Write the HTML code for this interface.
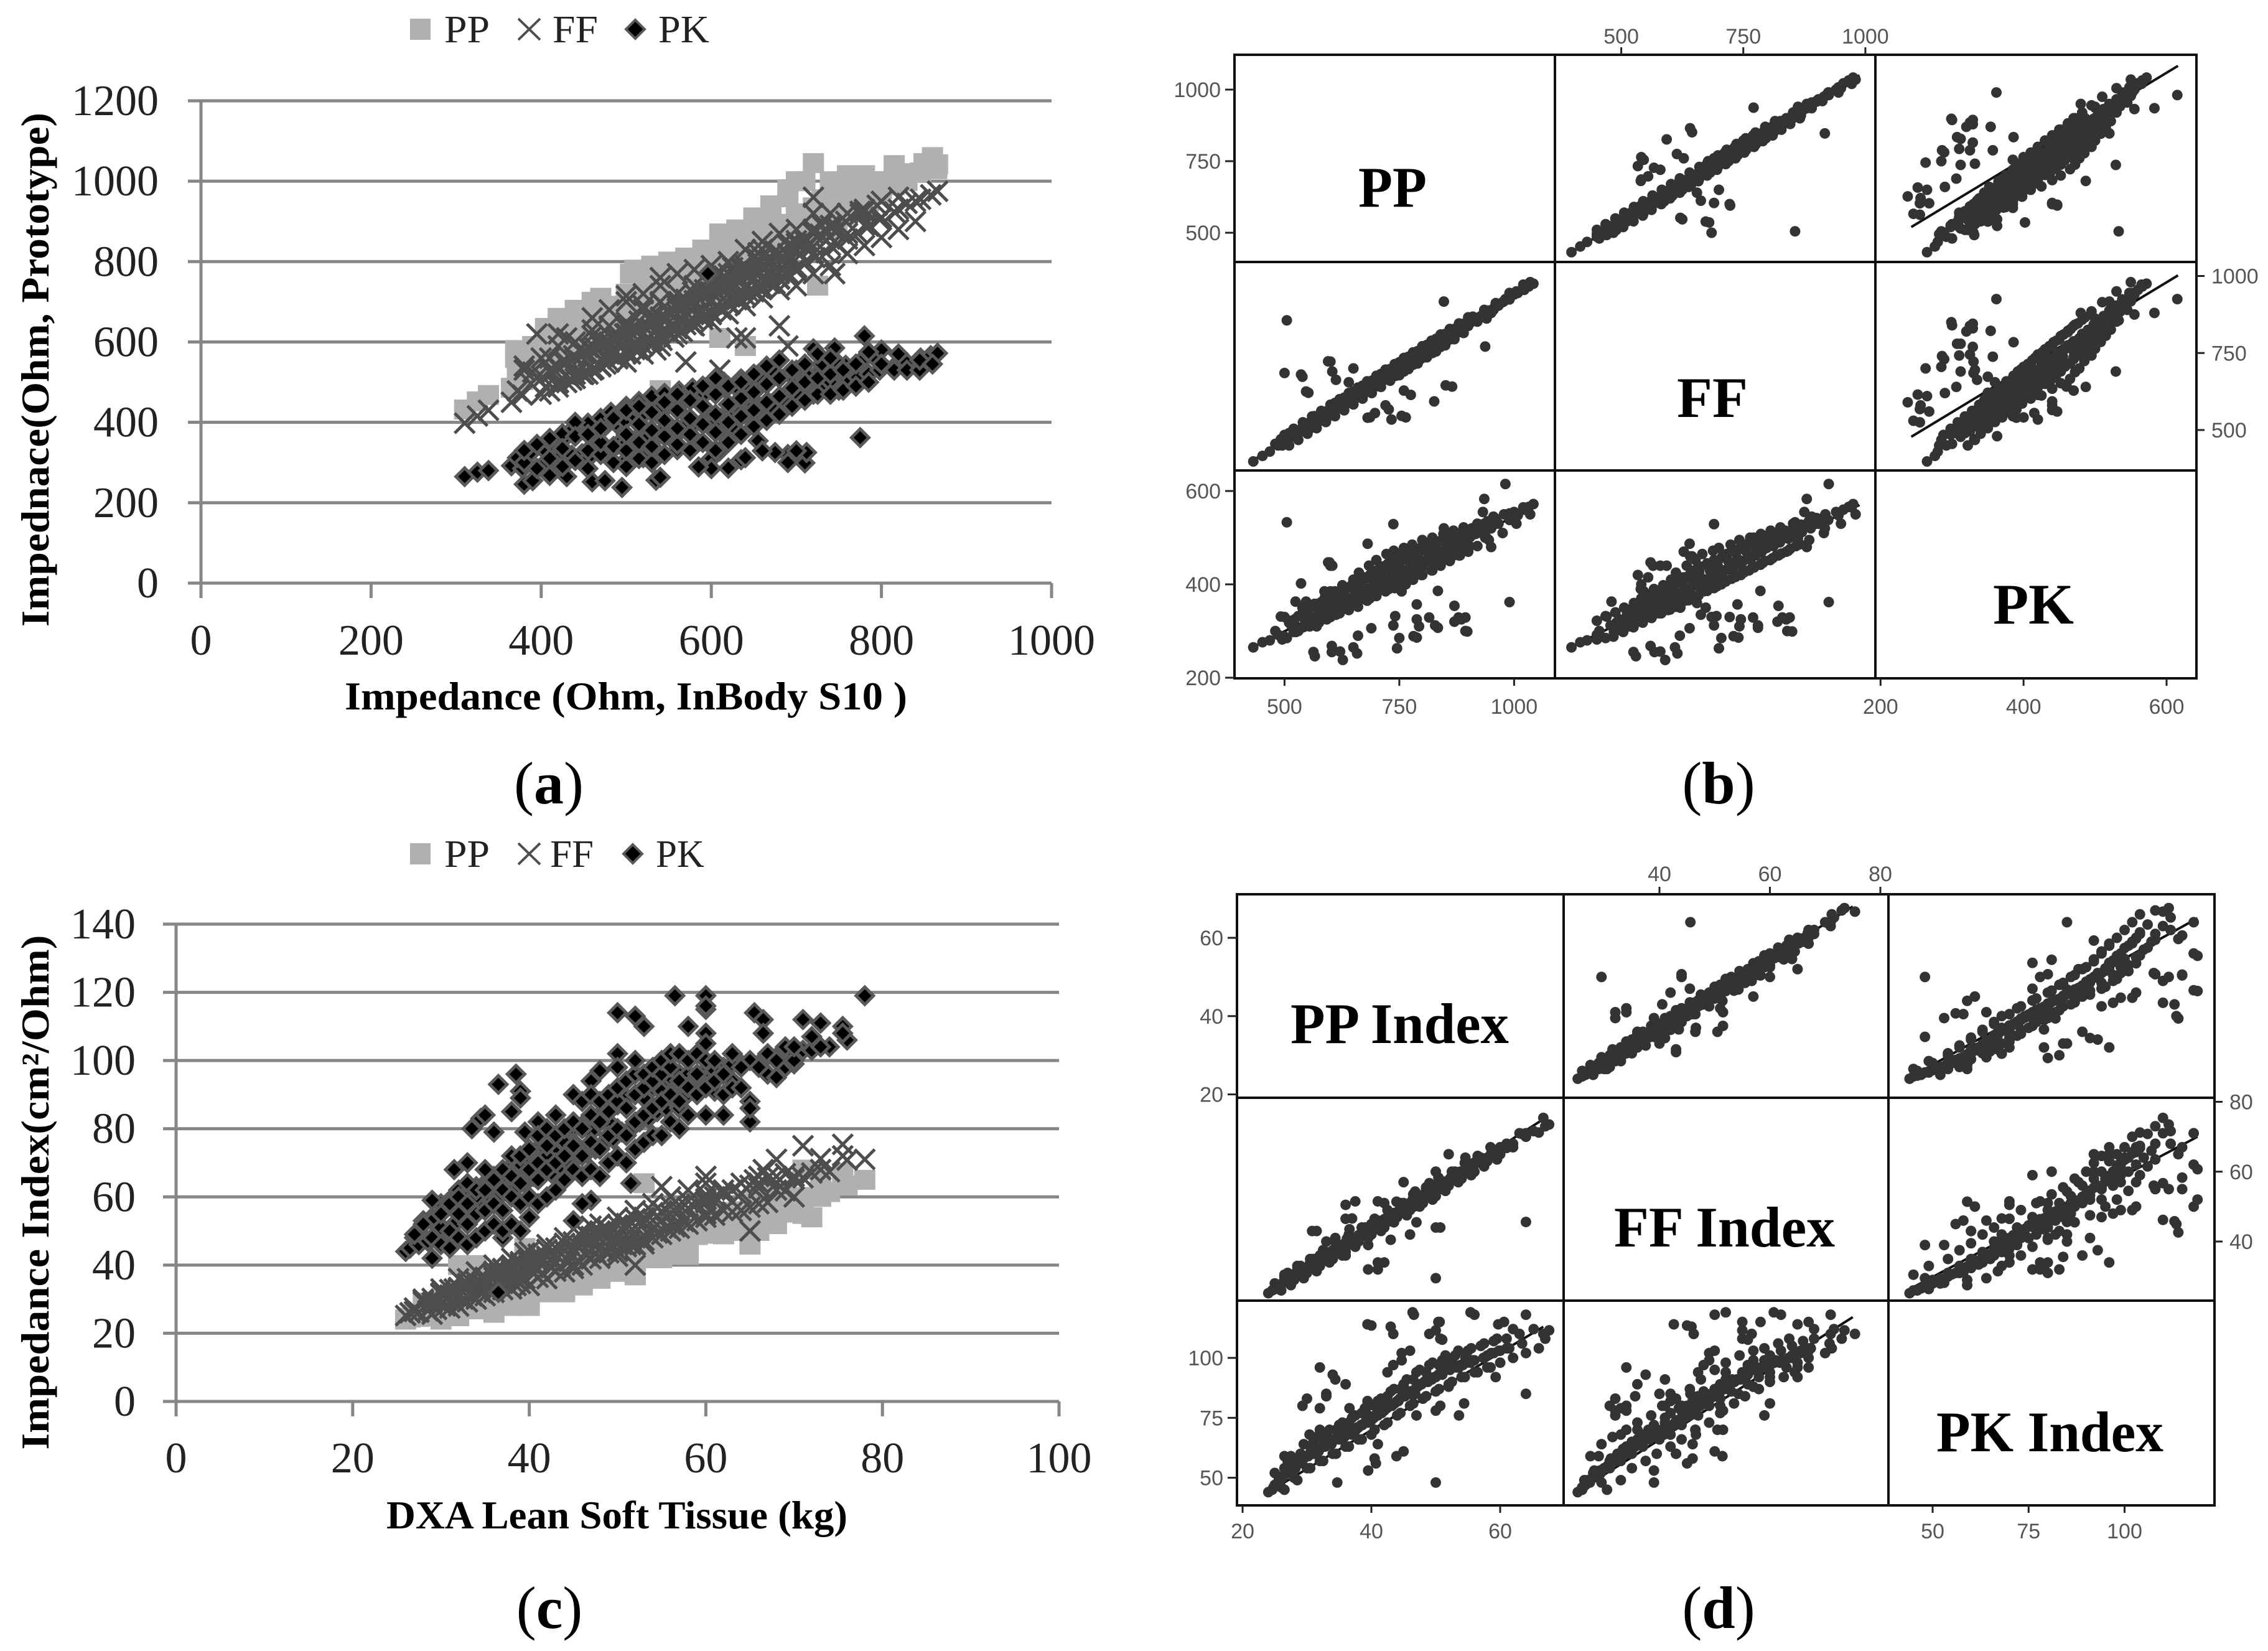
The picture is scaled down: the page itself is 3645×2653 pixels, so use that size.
<!DOCTYPE html>
<html lang="en">
<head>
<meta charset="utf-8">
<title>Impedance comparison charts</title>
<style>
html,body{margin:0;padding:0;background:#fff;}
svg{display:block;}
.title{font-family:"Liberation Serif",serif;font-weight:bold;font-size:64px;fill:#000;}
.legend-text{font-family:"Liberation Serif",serif;font-size:62px;fill:#222;}
.caption{font-family:"Liberation Serif",serif;font-size:96px;fill:#000;}
.diag{font-family:"Liberation Serif",serif;font-weight:bold;font-size:92px;fill:#000;}
</style>
</head>
<body>
<svg id="figure" xmlns="http://www.w3.org/2000/svg" width="3645" height="2653" viewBox="0 0 3645 2653">
  <rect x="0" y="0" width="3645" height="2653" fill="#fff"/>

  <g id="panel-a"></g>
  <g id="panel-b"></g>
  <g id="panel-c"></g>
  <g id="panel-d"></g>

  <!-- panel a text -->
  <g>
    <rect x="659" y="30" width="33" height="34" fill="#b0b0b0"/>
    <text class="legend-text" x="714" y="68" textLength="73" lengthAdjust="spacingAndGlyphs">PP</text>
    <path d="M833 30L868 64M868 30L833 64" stroke="#4d4d4d" stroke-width="4" fill="none"/>
    <text class="legend-text" x="888" y="68" textLength="73" lengthAdjust="spacingAndGlyphs">FF</text>
    <polygon points="1021,32 1036,47 1021,62 1006,47" fill="#000" stroke="#595959" stroke-width="4"/>
    <text class="legend-text" x="1058" y="68" textLength="82" lengthAdjust="spacingAndGlyphs">PK</text>
  </g>
  <text class="title" x="554" y="1140" textLength="904" lengthAdjust="spacingAndGlyphs">Impedance (Ohm, InBody S10 )</text>
  <text class="title" text-anchor="middle" transform="translate(78,594) rotate(-90)" textLength="826" lengthAdjust="spacingAndGlyphs">Impednace(Ohm, Prototype)</text>
  <text class="caption" x="882" y="1291" text-anchor="middle">(<tspan font-weight="bold">a</tspan>)</text>

  <!-- panel b text -->
  <text class="diag" x="2183" y="332" textLength="110" lengthAdjust="spacingAndGlyphs">PP</text>
  <text class="diag" x="2695" y="670" textLength="114" lengthAdjust="spacingAndGlyphs">FF</text>
  <text class="diag" x="3203" y="1002" textLength="130" lengthAdjust="spacingAndGlyphs">PK</text>
  <text class="caption" x="2762" y="1291" text-anchor="middle">(<tspan font-weight="bold">b</tspan>)</text>

  <!-- panel c text -->
  <g>
    <rect x="659" y="1355" width="33" height="34" fill="#b0b0b0"/>
    <text class="legend-text" x="714" y="1393" textLength="73" lengthAdjust="spacingAndGlyphs">PP</text>
    <path d="M833 1355L868 1389M868 1355L833 1389" stroke="#4d4d4d" stroke-width="4" fill="none"/>
    <text class="legend-text" x="884" y="1393" textLength="70" lengthAdjust="spacingAndGlyphs">FF</text>
    <polygon points="1017,1357 1032,1372 1017,1387 1002,1372" fill="#000" stroke="#595959" stroke-width="4"/>
    <text class="legend-text" x="1054" y="1393" textLength="78" lengthAdjust="spacingAndGlyphs">PK</text>
  </g>
  <text class="title" x="621" y="2456" textLength="741" lengthAdjust="spacingAndGlyphs">DXA Lean Soft Tissue (kg)</text>
  <text class="title" text-anchor="middle" transform="translate(78,1916) rotate(-90)" textLength="827" lengthAdjust="spacingAndGlyphs">Impedance Index(cm²/Ohm)</text>
  <text class="caption" x="883" y="2616" text-anchor="middle">(<tspan font-weight="bold">c</tspan>)</text>

  <!-- panel d text -->
  <text class="diag" x="2074" y="1676" textLength="351" lengthAdjust="spacingAndGlyphs">PP Index</text>
  <text class="diag" x="2594" y="2003" textLength="355" lengthAdjust="spacingAndGlyphs">FF Index</text>
  <text class="diag" x="3112" y="2332" textLength="365" lengthAdjust="spacingAndGlyphs">PK Index</text>
  <text class="caption" x="2762" y="2616" text-anchor="middle">(<tspan font-weight="bold">d</tspan>)</text>
</svg>

<script>
/* ---------- impedance data (panels a and b) ---------- */
const inbody = [310,325,338,365,378,372,405,388,420,402,
436,412,448,420,462,428,476,440,490,452,
505,462,516,476,530,488,542,498,556,510,
566,520,578,530,590,540,600,550,612,560,
622,570,634,582,645,592,656,604,668,616,
680,628,690,642,700,655,712,668,722,680,
735,695,748,712,760,728,772,742,785,758,
798,775,815,795,830,846,858,866,
395,455,410,470,425,484,438,498,455,510,470,525,482,540,500,555,515,570,530,590,545,606,562,622,578,640,598,655,615,670,635,688,655,705,675,720,740,700,750,730,
775,710,712,690,655,620,600,635,560,675,625,620,600,495,460,475,380,390,535,430,410,420,500,520,540,585,610,640,660,690,700,
null,null,null,null,null,null,null,null,null,null,null,null,null,null,null,null,null,null,null,null,null,null,null,null,null,null,null,null,null,780,745,720];
const ppImp = [432,452,468,486,505,515,530,522,545,542,
556,552,570,568,584,580,590,596,608,606,
620,622,632,630,645,646,656,658,668,672,
684,686,690,702,706,714,722,726,736,738,
750,754,762,770,774,784,788,796,802,808,
816,820,828,836,842,848,856,862,868,874,
882,890,898,908,916,926,932,942,950,958,
966,978,990,1000,1008,1022,1032,1042,
548,570,566,592,588,612,600,624,626,640,650,660,662,676,684,700,700,716,722,742,738,760,760,780,778,798,800,822,822,840,846,860,868,882,890,900,940,920,950,955,
990,898,885,870,870,788,793,834,741,788,834,788,750,627,658,603,566,563,621,650,603,660,689,737,745,781,815,828,879,894,894,
505,552,539,600,612,826,851,937,847,500,536,547,595,604,650,733,755,681,697,720,760,640,598,600,681,737,587,492,524,981,932,935,
865,764,686,727,775,
480,495,510,525,540,555,565,575,590,600,610,620,630,640,650,660,670,680,690,700,710,720,730,740,750,760,770,780,790,800,810,820,830,840,850,860,870,880,890,900,910,920,935,945,960,975,990,1005,1020,1035,
520,560,600,640,680,720,760,800,840,880,920,960,545,585,625,665,705,745,785,825,865,905,945,
500,510,520,530,540,550,560,570,580,590,600,610,620,630,640,650,660,670,680,690,700,710,720,730,740,750,760,770,780,790,800,810,820,830,840,850,860,870,880,890,900,
555,575,595,615,635,655,675,695,715,735,755,775,795,815,835];
const ffImp = [398,416,430,450,468,478,488,496,498,512,
505,522,520,534,532,548,545,562,558,575,
570,588,582,598,592,608,604,620,612,628,
626,640,642,650,656,662,668,676,680,690,
694,706,708,716,722,730,734,744,746,756,
758,770,772,784,786,794,798,806,810,820,
822,836,842,852,856,868,870,884,888,900,
904,918,924,940,945,955,966,975,
512,520,530,538,552,566,566,575,586,588,602,610,612,622,634,642,652,662,666,676,688,690,700,712,724,732,742,750,764,770,786,794,806,818,826,838,862,852,880,890,
925,850,838,820,822,740,742,780,695,745,785,738,705,590,615,568,530,525,580,610,560,620,640,690,700,730,770,780,830,840,845,
856,621,673,722,663,593,645,771,917,685,680,625,723,690,700,534,546,540,555,580,628,655,560,565,640,690,545,470,480,925,875,880,
641,541,541,567,614,
455,450,490,485,512,515,545,530,560,555,588,578,605,596,625,612,644,630,660,650,682,668,698,690,720,705,738,726,756,745,776,762,796,785,812,805,828,822,845,842,868,858,890,885,912,915,945,950,972,980,
485,520,560,598,635,672,710,750,788,825,862,900,508,548,585,622,660,698,735,775,812,850,888,
484,450,504,468,525,488,544,506,562,526,582,545,600,564,620,583,638,602,658,620,676,640,696,660,714,678,734,698,752,716,772,736,790,755,810,775,828,795,846,815,866,
515,534,553,572,592,611,630,649,668,687,706,725,744,763,782];
const pkImp = [265,276,280,292,285,312,300,325,310,335,
318,348,322,358,330,362,338,370,345,378,
350,385,358,392,365,398,372,405,380,415,
385,420,392,430,400,438,405,445,410,452,
418,458,425,465,432,470,440,478,448,485,
455,490,462,492,470,498,478,505,485,510,
492,515,498,520,508,528,512,535,520,542,
530,550,538,555,548,560,566,572,
345,310,358,325,372,335,385,345,398,355,410,362,425,372,440,380,452,392,465,398,472,402,478,410,485,420,495,430,500,440,508,450,515,462,522,470,500,530,480,545,
362,299,325,320,354,286,310,307,332,325,386,357,285,238,252,255,246,255,256,265,268,290,306,312,263,289,329,312,329,300,329,
533,350,350,330,335,440,460,500,520,330,402,363,447,440,400,420,385,390,415,440,470,360,447,440,487,529,385,331,363,615,555,583,
460,400,370,390,420,
300,282,318,298,340,310,358,318,375,330,385,338,392,345,402,352,410,365,420,375,428,385,438,392,448,400,455,412,470,420,478,430,485,442,498,452,505,462,512,472,520,482,530,495,540,510,552,530,565,550,
310,330,350,370,390,410,430,450,470,490,510,530,322,342,362,382,402,422,442,462,482,502,522,
288,322,298,332,308,340,318,350,328,360,338,370,346,380,356,390,366,400,376,410,386,420,396,430,406,440,416,450,426,460,436,470,446,480,456,490,466,500,476,510,486,
328,338,348,358,368,378,388,398,408,418,428,438,448,458,468];

/* points that only appear in panel a */
const aPpExtraX = [510,505,530,540,610,640,725,720,440,470,405,860,815,850,760,780,700,865,820,
370,370,390,420,420,440,460,460,480,500,500,520,550,550,570,570,590,590,610,610,630,630,650,650,670,670,690,690,710,740,740,760,760,780,800,800,830,830];
const aPpExtraY = [780,770,790,480,610,590,740,1045,680,710,635,1060,1040,1045,1015,1015,1000,1030,1010,
560,580,590,630,650,660,680,700,690,700,720,760,790,800,800,810,820,830,850,870,870,880,900,910,920,940,960,980,1000,980,1000,960,1000,990,980,1000,1000,1020];
const aFfExtraX = [395,680,570,610,630,720,690,500,540,745,640,
380,400,400,420,420,440,440,460,460,460,480,480,480,500,500,500,500,520,520,520,520,540,540,540,540,560,560,560,560,580,580,580,580,600,600,600,600,620,620,620,620,640,640,640,640,660,660,660,660,680,680,680,680,700,700,700,700,720,720,720,720,740,740,740,740,760,760,760,780,780,780,800,800,800,820,820,820,840,840,
410,420,430,440,450,460,470,480,490,500,510,520,530,540,550,560,570,580,590,600,610,620,630,640,650,660,670,680,690,700,
410,420,430,440,450,460,470,480,490,500,510,520,530,540,550,560,570,580,590,600,610,620,630,640,650,660,670,680,690,700];
const aFfExtraY = [620,640,550,530,610,960,590,715,760,770,610,
540,470,560,500,590,520,600,530,630,660,570,640,680,550,600,650,700,570,620,680,720,590,640,700,740,620,670,720,770,640,690,740,780,650,700,750,790,670,720,770,800,690,740,790,830,710,760,810,850,730,770,820,870,740,780,830,880,770,820,870,920,790,840,890,920,820,870,920,840,890,930,860,910,950,880,930,960,900,950,
478,538,499,559,519,580,540,600,560,621,581,641,602,662,622,683,643,703,663,724,684,744,705,765,725,785,746,806,766,827,
528,488,549,509,569,530,590,550,610,571,631,591,652,612,672,633,693,653,713,674,734,694,755,715,775,735,796,756,816,777];
const aPkExtraX = [596,800,820,440,745,
380,380,395,395,410,410,425,425,440,440,455,455,455,470,470,470,485,485,485,500,500,500,500,515,515,515,515,530,530,530,530,545,545,545,545,560,560,560,560,575,575,575,575,590,590,590,590,605,605,605,605,605,620,620,620,620,635,635,635,635,650,650,650,650,665,665,665,665,680,680,680,680,695,695,695,710,710,710,725,725,725,740,740,740,755,755,770,770,785,785,800,815,830,845,845,860];
const aPkExtraY = [770,580,570,400,585,
300,330,285,345,310,360,290,335,305,365,285,330,370,320,350,385,300,340,410,290,330,370,430,310,350,395,440,300,340,380,425,320,365,405,450,345,385,430,470,330,370,410,455,350,395,440,490,330,375,420,470,510,350,400,445,490,370,415,460,500,390,430,475,520,405,450,495,540,420,465,510,555,440,485,530,455,500,545,470,510,570,470,520,560,480,530,490,545,500,575,545,530,530,530,555,545];

/* ---------- index data (panels c and d) ---------- */
const dxaLean = [26,26.5,27,27.5,28,28.5,29,29.5,30,30.5,
31,31.5,32,32.5,33,33.5,34,34.5,35,35.5,
36,36.5,37,37.5,38,38.5,39,39.5,40,40.5,
41,41.5,42,42.5,43,43.5,44,44.5,45,45.5,
46,46.5,47,47.5,48,48.5,49,49.5,50,50.5,
51,51.5,52,52.5,53,53.5,54,54.5,55,55.5,
56,56.5,57,57.5,58,59,60,61,62,63,
64,65,66,67,68,69,70,71,72,74,76,null,
27,29,31,33,35,37,39,41,43,45,47,49,51,53,55,57,59,61,63,65,67,69,30,32,34,36,38,40,42,44,
38.5,36.5,39,39,33.5,34.5,36,35,38,39.5,41,31.5,33,29,50,52,53,56.5,50,48,47,60,58,60,60,65.5,null,75.5,73,66.5,
51.5,45,47,46,37];
const ppIdx = [24.0,24.6,25.6,24.8,27.2,25.0,28.0,25.8,29.5,26.2,
30.2,27.0,31.2,28.2,31.8,28.8,32.8,29.2,33.6,30.4,
35.0,31.0,35.8,32.0,36.4,32.4,37.6,33.8,38.0,34.2,
40.0,35.2,40.4,35.6,41.6,36.8,42.0,37.2,43.2,38.4,
43.6,39.0,44.8,39.6,45.2,40.6,46.2,41.2,46.8,42.2,
47.8,42.8,48.2,44.0,49.4,44.4,49.8,45.6,51.0,46.0,
51.6,47.2,52.6,47.6,53.2,48.8,54.2,49.2,54.8,51.0,
55.8,52.0,56.0,53.6,58.0,55.4,58.6,59.8,60.0,61.4,63.4,65.2,
25.6,27.2,29.4,30.6,32.4,34.4,36.4,37.8,39.4,40.8,42.4,44.2,45.8,47.4,48.6,50.4,52.2,53.8,55.6,57.4,59.0,61.0,26.4,28.0,30.8,33.0,35.4,36.2,38.6,41.0,
32,34,34.4,36,29.3,30,32,33,33,36.6,39.4,30.4,32,26.5,39.4,43,43.4,46.4,44.7,43.4,42.5,50.4,49,50.7,55.4,59.7,64,66.7,66,62,
41,39.5,43.9,40.5,34.7,
64,50.7,47,41,42,37,42,37.5,31.5,46.8,46,52,36,36,30.8,41,45,50,54.6,39.5,
41,50,43,67,67.6,40,46.6,56,60.6,51,50,50.6,44.7,46,53.6,54.4,59.3,40.7,45,50,
25,26,27,28,29,30,31,32,33,34,35,36,37,38,39,40,41,42,43,44,45,46,47,48,49,50,51,52,53,54,55,56,57,58,59,60,61,62,63,64,
26.5,28.5,30.5,32.5,34.5,36.5,38.5,40.5,42.5,44.5,46.5,48.5,50.5,52.5,
26.5,27.5,28.5,29.5,30.5,31.5,32.5,33.5,34.5,35.5,36.5,37.5,38.5,39.5,40.5,41.5,42.5,43.5,44.5,45.5,46.5,47.5,48.5,49.5,50.5,51.5,52.5,53.5,54.5,55.5,56.5,57.5,58.5,59.5];
const ffIdx = [25.2,26.0,27.4,26.2,29.2,26.6,30.2,27.0,31.8,28.0,
32.8,29.4,33.4,30.0,34.6,31.0,35.0,32.2,36.4,32.4,
38.2,34.0,38.8,34.2,40.0,35.6,40.4,36.0,41.8,37.4,
43.2,37.6,44.6,39.2,45.0,39.6,46.4,41.0,46.8,41.4,
48.2,42.8,48.4,43.6,50.0,44.2,50.2,45.6,51.8,46.0,
52.2,47.4,53.6,47.6,54.0,49.2,55.4,49.4,55.8,51.0,
57.2,51.2,57.6,52.8,58.8,53.0,59.4,54.6,60.8,55.6,
61.0,57.0,62.6,58.4,64.0,61.8,65.2,65.6,67.0,67.4,70.8,71.6,
26.4,28.2,31.2,33.8,35.2,36.8,39.0,41.0,43.0,44.6,46.6,48.6,50.6,52.2,53.2,56.0,58.0,60.0,62.0,63.4,65.6,66.8,28.6,30.6,34.0,36.4,38.4,40.8,42.6,44.2,
34,37.5,41,36,31,32,33,35.6,40,43.5,42,33,36,29,42.6,45.8,46.2,52,49,48,47,58.3,56.7,55,60.7,65,71,75.4,71.2,68,
46,39,51.4,46,39,
45.6,44,45.5,32,34,46.6,51,51.5,43,54.3,42,65,50.5,46.5,43,51.5,57,60,64,32,
34,44,40.5,73,73.5,45,50,62,67,56,55,55,49,50,59,60,65,45,50,29.5,
28,26,31,29,33,31,35,33,37,35,39,37,41,40,44,42,46,44,48,47,51,49,52,51,56,53,57,56,60,58,62,60,64,63,66,65,68,67,71,70,
30,32,34,36,38,41,42,45,47,50,52,55,57,59,
30.5,27.5,33,29.5,35,31.5,37.5,34,39.5,36,42,38.5,44,41,46.5,43,49,45.5,51,47.5,53.5,50,55.5,52,58,54.5,60,57,62.5,59,64.5,61.5,67,63.5];
const pkIdx = [44,45,48,46,53,47,54,49,58,50,
59,52,62,54,61,56,63,57,64,60,
66,60,67,62,69,63,70,64,71,66,
74,67,75,67,77,69,78,70,80,72,
81,73,84,74,84,76,86,77,87,79,
89,80,90,82,91,83,92,85,93,86,
95,88,96,89,96,90,97,91,98,94,
99,88,99,96,101,98,102,103,103,104,106,112,
49,53,58,60,63,66,69,71,73,76,79,82,86,89,91,93,95,97,99,100,102,104,51,55,60,64,67,68,72,76,
96,93,91,89,80,83,79,84,85,79,82,68,70,59,114,113,110,119,102,97,94,115,110,108,119,114,118,110,104,112,
64,53,59,58,48,
85,80,76,78,80,68,80,70,60,85,85,96,70,70,60,78,88,92,100,76,
78,78,80,108,111.5,113.5,118,118,115,107.6,111.5,115,99,103,76,81,92,56,61,48,
52,46,57,50,60,54,65,57,68,60,72,63,75,66,79,68,82,72,86,76,89,80,94,83,97,86,99,89,101,92,103,94,105,96,107,98,108,100,110,102,
54,58,63,66,70,73,77,80,84,87,91,94,97,99,
45,59,49,64,54,67,57,70,60,73,63,76,66,80,70,83,73,87,77,91,81,95,84,98,87,101,90,103,92,104,94,106,96,108];

/* points that only appear in panel c */
const cPpExtraX = [53,71,75.5,78,71,72,65,58,52,39.5,32,28,68,62,44,48,55,34,
30,30,32,34,36,36,38,40,40,42,44,44,46,46,48,50,52,52,54,56,56,58,58,60,62,62,64,66,66,68,68,70,70,73,73];
const cPpExtraY = [64,68,67,65,55,54,46,43,37,45,40,29,56,50,33,36,42,40,
24,26,25,27,26,30,28,28,30,32,32,34,34,35,36,38,40,37,42,43,45,46,48,50,49,52,50,50,54,52,55,56,60,60,62];
const cFfExtraX = [71,75.5,78,65,55,60,66,68,73,52,63,
28,30,32,32,34,34,36,36,38,38,40,40,42,42,44,44,46,46,48,48,50,50,52,52,54,54,56,56,58,58,60,60,62,62,64,64,66,66,68,68,70,70,
28,29,30,31,32,33,34,35,36,37,38,39,40,41,42,43,44,45,46,47,48,49,50,51,52,53,54,55,56,57,58];
const cFfExtraY = [75,72,71,50,63,66,66,71,68,40,62,
30,33,28,36,30,38,32,40,33,42,34,44,36,46,38,48,40,50,42,52,44,54,46,56,48,58,50,60,52,62,54,64,56,62,56,64,58,64,62,66,60,66,
29.7,25.6,31.5,27.4,33.3,29.2,35.1,31,36.9,32.8,38.7,34.6,40.5,36.4,42.3,38.2,44.1,40,45.9,41.8,47.7,43.6,49.5,45.4,51.3,47.2,53.1,49,54.9,50.8,56.7];
const cPkExtraX = [36.5,57,62,65,65,68,70,72,78,71,60,66.5,73,75.5,
28,29,29,30,30,31,31,31,32,32,32,33,33,33,33,34,34,34,35,35,35,35,36,36,36,37,37,37,37,38,38,38,38,39,39,39,39,40,40,40,40,41,41,41,41,42,42,42,42,43,43,43,43,44,44,44,45,45,45,45,46,46,46,46,47,47,47,47,48,48,48,48,49,49,49,49,50,50,50,50,50,51,51,51,51,52,52,52,52,52,53,53,53,53,54,54,54,54,55,55,55,55,56,56,56,56,57,57,57,57,58,58,58,59,59,59,60,60,60,60,61,61,62,62,63,63,63,64,64,66,68,70,70];
const cPkExtraY = [32,86,84,82,86,95,99,107,119,112,116,108,111,108,
52,42,48,46,55,45,50,58,48,55,60,46,52,58,64,48,55,62,50,56,62,68,52,58,65,50,56,62,68,52,60,66,72,50,58,64,72,54,60,68,74,58,65,70,78,60,68,75,80,62,70,78,84,65,72,80,68,75,82,90,66,72,80,88,68,76,84,90,66,74,82,88,70,78,85,90,72,80,88,92,98,70,78,86,94,74,82,90,96,100,76,84,92,96,78,86,94,98,78,88,96,100,82,90,98,102,80,88,94,102,84,92,100,90,96,102,84,92,100,105,94,100,90,96,92,99,102,98,92,98,100,100,104];

/* ---------- tick labels ---------- */
const aXTicks = [0,200,400,600,800,1000];
const aYTicks = [0,200,400,600,800,1000,1200];
const cXTicks = [0,20,40,60,80,100];
const cYTicks = [0,20,40,60,80,100,120,140];
const bTicksPP = [500,750,1000];
const bTicksFF = [500,750,1000];
const bTicksPK = [200,400,600];
const dTicksPP = [20,40,60];
const dTicksFF = [40,60,80];
const dTicksPK = [50,75,100];

/* ---------- fit line end values: [x start, x end, y start, y end] ---------- */
const bFitFFvsPP = [396,988,430,1050];
const bFitPKvsPP = [243,616,520,1083];
const bFitPPvsFF = [430,1050,400,985];
const bFitPKvsFF = [243,616,478,1002];
const bFitPPvsPK = [430,1050,265,570];
const bFitFFvsPK = [396,988,265,570];
const dFitFFvsPP = [25,75,24,68];
const dFitPKvsPP = [43.4,119,24,65];
const dFitPPvsFF = [24,66.7,25,75];
const dFitPKvsFF = [43.4,119,26,70];
const dFitPPvsPK = [24,66.7,44,113];
const dFitFFvsPK = [25,75,44,117];

const NS = 'http://www.w3.org/2000/svg';
function mk(parent, tag, attrs) {
  const el = document.createElementNS(NS, tag);
  for (const k in attrs) el.setAttribute(k, attrs[k]);
  parent.appendChild(el);
  return el;
}
function linear(d0, d1, r0, r1) {
  return v => r0 + (v - d0) / (d1 - d0) * (r1 - r0);
}

function drawSquare(g, x, y) {
  const el = mk(g, 'rect', {x: x - 17, y: y - 16, width: 34, height: 32, fill: '#b0b0b0'});
  
  
}
function drawCross(g, x, y) {
  const el = mk(g, 'path', {d: 'M' + (x - 16) + ' ' + (y - 16) + 'L' + (x + 16) + ' ' + (y + 16) + 'M' + (x + 16) + ' ' + (y - 16) + 'L' + (x - 16) + ' ' + (y + 16), stroke: '#4d4d4d', 'stroke-width': 5, fill: 'none'});
  
  
}
function drawDiamond(g, x, y) {
  const el = mk(g, 'polygon', {points: x + ',' + (y - 14) + ' ' + (x + 14) + ',' + y + ' ' + x + ',' + (y + 14) + ' ' + (x - 14) + ',' + y, fill: '#000', stroke: '#595959', 'stroke-width': 5});
  
  
}

function drawScatter(cfg) {
  const g = document.getElementById(cfg.id);
  const sx = linear(cfg.xDomain[0], cfg.xDomain[1], cfg.x0, cfg.x1);
  const sy = linear(cfg.yDomain[0], cfg.yDomain[1], cfg.y0, cfg.y1);

  cfg.yTicks.forEach(t => {
    const y = sy(t);
    const line = mk(g, 'line', {x1: cfg.tickLeft, x2: cfg.x1, y1: y, y2: y, stroke: '#868686', 'stroke-width': 5});
    
    
    const label = mk(g, 'text', {x: cfg.yLabelRight, y: y + 23, 'text-anchor': 'end', 'font-family': '"Liberation Serif",serif', 'font-size': 70, fill: '#222'});
    label.textContent = t;
    
    
  });
  cfg.xTicks.forEach(t => {
    const x = sx(t);
    const tick = mk(g, 'line', {x1: x, x2: x, y1: cfg.y0, y2: cfg.y0 + 24, stroke: '#868686', 'stroke-width': 5});
    
    
    const label = mk(g, 'text', {x: x, y: cfg.xLabelY, 'text-anchor': 'middle', 'font-family': '"Liberation Serif",serif', 'font-size': 70, fill: '#222'});
    label.textContent = t;
    
    
  });
  const axis = mk(g, 'line', {x1: cfg.x0, x2: cfg.x0, y1: cfg.y1, y2: cfg.y0 + 24, stroke: '#868686', 'stroke-width': 5});
  
  

  const plot = (xs, ys, fn) => {
    for (let i = 0; i < Math.min(xs.length, ys.length); i++) {
      if (xs[i] === null || ys[i] === null) continue;
      fn(g, sx(xs[i]), sy(ys[i]));
    }
  };
  plot(cfg.x, cfg.pp, drawSquare);
  plot(cfg.ppExtraX, cfg.ppExtraY, drawSquare);
  plot(cfg.x, cfg.ff, drawCross);
  plot(cfg.ffExtraX, cfg.ffExtraY, drawCross);
  plot(cfg.x, cfg.pk, drawDiamond);
  plot(cfg.pkExtraX, cfg.pkExtraY, drawDiamond);
}

function drawMatrix(cfg) {
  const g = document.getElementById(cfg.id);
  const [L, V1, V2, R] = cfg.vLines;
  const [T, H1, H2, B] = cfg.hLines;

  const colScale = cfg.cols.map(c => linear(c[0], c[1], c[2], c[3]));
  const rowScale = cfg.rows.map(r => linear(r[0], r[1], r[2], r[3]));

  for (let r = 0; r < 3; r++) {
    for (let c = 0; c < 3; c++) {
      if (r === c) continue;
      const fit = cfg.fits[r + '-' + c];
      const ln = mk(g, 'line', {x1: colScale[c](fit[0]), x2: colScale[c](fit[1]), y1: rowScale[r](fit[2]), y2: rowScale[r](fit[3]), stroke: '#111', 'stroke-width': 4});
      
      
      const xs = cfg.vars[c];
      const ys = cfg.vars[r];
      for (let i = 0; i < Math.min(xs.length, ys.length); i++) {
        const dot = mk(g, 'circle', {cx: colScale[c](xs[i]), cy: rowScale[r](ys[i]), r: 8.5, fill: '#333'});
        
        
      }
    }
  }

  const frame = mk(g, 'rect', {x: L, y: T, width: R - L, height: B - T, fill: 'none', stroke: '#111', 'stroke-width': 4});
  
  
  [V1, V2].forEach(x => {
    const el = mk(g, 'line', {x1: x, x2: x, y1: T, y2: B, stroke: '#111', 'stroke-width': 4});
    
    
  });
  [H1, H2].forEach(y => {
    const el = mk(g, 'line', {x1: L, x2: R, y1: y, y2: y, stroke: '#111', 'stroke-width': 4});
    
    
  });

  const tickStyle = {'font-family': '"Liberation Sans",sans-serif', 'font-size': 34, fill: '#555'};
  const addTick = (x1, y1, x2, y2) => {
    const t = mk(g, 'line', {x1, y1, x2, y2, stroke: '#222', 'stroke-width': 3});
    
    
  };
  const addLabel = (x, y, anchor, s) => {
    const t = mk(g, 'text', Object.assign({x, y, 'text-anchor': anchor}, tickStyle));
    t.textContent = s;
    
    
  };
  /* left: rows 0 and 2 */
  [0, 2].forEach(r => cfg.ticks[r].forEach(v => {
    const y = rowScale[r](v);
    addTick(L, y, L - 15, y);
    addLabel(L - 22, y + 12, 'end', v);
  }));
  /* right: row 1 */
  cfg.ticks[1].forEach(v => {
    const y = rowScale[1](v);
    addTick(R, y, R + 13, y);
    addLabel(R + 24, y + 12, 'start', v);
  });
  /* top: column 1 */
  cfg.ticks[1].forEach(v => {
    const x = colScale[1](v);
    addTick(x, T, x, T - 12);
    addLabel(x, cfg.topLabelY, 'middle', v);
  });
  /* bottom: columns 0 and 2 */
  [0, 2].forEach(c => cfg.ticks[c].forEach(v => {
    const x = colScale[c](v);
    addTick(x, B, x, B + 12);
    addLabel(x, cfg.bottomLabelY, 'middle', v);
  }));
}

drawScatter({
  id: 'panel-a', x: inbody, pp: ppImp, ff: ffImp, pk: pkImp,
  ppExtraX: aPpExtraX, ppExtraY: aPpExtraY, ffExtraX: aFfExtraX, ffExtraY: aFfExtraY, pkExtraX: aPkExtraX, pkExtraY: aPkExtraY,
  xDomain: [0, 1000], yDomain: [0, 1200], x0: 323, x1: 1690, y0: 937, y1: 162,
  xTicks: aXTicks, yTicks: aYTicks, tickLeft: 302, yLabelRight: 255, xLabelY: 1052
});
drawScatter({
  id: 'panel-c', x: dxaLean, pp: ppIdx, ff: ffIdx, pk: pkIdx,
  ppExtraX: cPpExtraX, ppExtraY: cPpExtraY, ffExtraX: cFfExtraX, ffExtraY: cFfExtraY, pkExtraX: cPkExtraX, pkExtraY: cPkExtraY,
  xDomain: [0, 100], yDomain: [0, 140], x0: 283, x1: 1702, y0: 2252, y1: 1485,
  xTicks: cXTicks, yTicks: cYTicks, tickLeft: 262, yLabelRight: 218, xLabelY: 2366
});
drawMatrix({
  id: 'panel-b', vars: [ppImp, ffImp, pkImp],
  vLines: [1984, 2499, 3014, 3530], hLines: [88, 421, 756, 1090],
  cols: [[500, 1000, 2064.4, 2433.4], [500, 1000, 2605.6, 2997.9], [200, 600, 3022.3, 3482]],
  rows: [[500, 1000, 374, 144], [500, 1000, 691, 443.5], [200, 600, 1089, 789]],
  ticks: [bTicksPP, bTicksFF, bTicksPK],
  fits: {'0-1': bFitFFvsPP, '0-2': bFitPKvsPP, '1-0': bFitPPvsFF, '1-2': bFitPKvsFF, '2-0': bFitPPvsPK, '2-1': bFitFFvsPK},
  topLabelY: 70, bottomLabelY: 1147
});
drawMatrix({
  id: 'panel-d', vars: [ppIdx, ffIdx, pkIdx],
  vLines: [1988, 2513, 3035, 3559], hLines: [1437, 1764, 2090, 2419],
  cols: [[20, 60, 1997, 2411], [40, 80, 2667, 3022], [50, 100, 3106, 3414.5]],
  rows: [[20, 60, 1758.6, 1507], [40, 80, 1995, 1770.5], [50, 100, 2374.6, 2182]],
  ticks: [dTicksPP, dTicksFF, dTicksPK],
  fits: {'0-1': dFitFFvsPP, '0-2': dFitPKvsPP, '1-0': dFitPPvsFF, '1-2': dFitPKvsFF, '2-0': dFitPPvsPK, '2-1': dFitFFvsPK},
  topLabelY: 1416, bottomLabelY: 2472
});
</script>
</body>
</html>
